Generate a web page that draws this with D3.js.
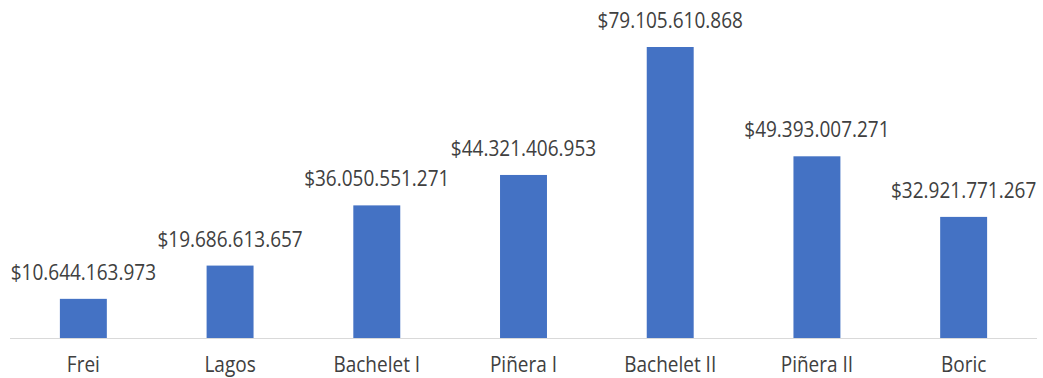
<!DOCTYPE html>
<html>
<head>
<meta charset="utf-8">
<script src="https://cdn.jsdelivr.net/npm/d3@7"></script>
<style>
  body { margin: 0; background: #fff; }
  text { font-family: "Open Sans", sans-serif; fill: #404040; }
</style>
</head>
<body>
<div id="chartDiv"></div>
<script>
const categories = ['Frei', 'Lagos', 'Bachelet I', 'Piñera I', 'Bachelet II', 'Piñera II', 'Boric'];
const values = [10644163973, 19686613657, 36050551271, 44321406953, 79105610868, 49393007271, 32921771267];
const valueLabels = ['$10.644.163.973', '$19.686.613.657', '$36.050.551.271', '$44.321.406.953',
                     '$79.105.610.868', '$49.393.007.271', '$32.921.771.267'];

const width = 1043, height = 378;
const baseY = 338;

const svg = d3.create('svg')
    .attr('width', width)
    .attr('height', height);

const x = d3.scaleBand()
    .domain(categories)
    .range([10, 1037])
    .paddingInner(0.68)
    .paddingOuter(0.34);

const y = d3.scaleLinear()
    .domain([0, 79105610868])
    .range([baseY, 47]);

svg.selectAll('.bar')
    .data(values)
    .enter().append('rect')
    .attr('x', (d, i) => x(categories[i]))
    .attr('y', d => y(d))
    .attr('width', x.bandwidth())
    .attr('height', d => baseY - y(d))
    .attr('fill', '#4472c4');

svg.append('line')
    .attr('x1', 10)
    .attr('x2', 1037)
    .attr('y1', baseY + 0.5)
    .attr('y2', baseY + 0.5)
    .attr('stroke', '#d9d9d9')
    .attr('stroke-width', 1);

// text in the picture is slightly stretched vertically
svg.selectAll('.val')
    .data(values)
    .enter().append('text')
    .attr('transform', (d, i) => `translate(${x(categories[i]) + x.bandwidth() / 2},${y(d) - 19}) scale(1,1.1)`)
    .attr('text-anchor', 'middle')
    .style('font-size', '19px')
    .text((d, i) => valueLabels[i]);

svg.selectAll('.cat')
    .data(categories)
    .enter().append('text')
    .attr('transform', d => `translate(${x(d) + x.bandwidth() / 2},372) scale(1,1.15)`)
    .attr('text-anchor', 'middle')
    .style('font-size', '19px')
    .text(d => d);

d3.select('#chartDiv').append(() => svg.node());
</script>
</body>
</html>
